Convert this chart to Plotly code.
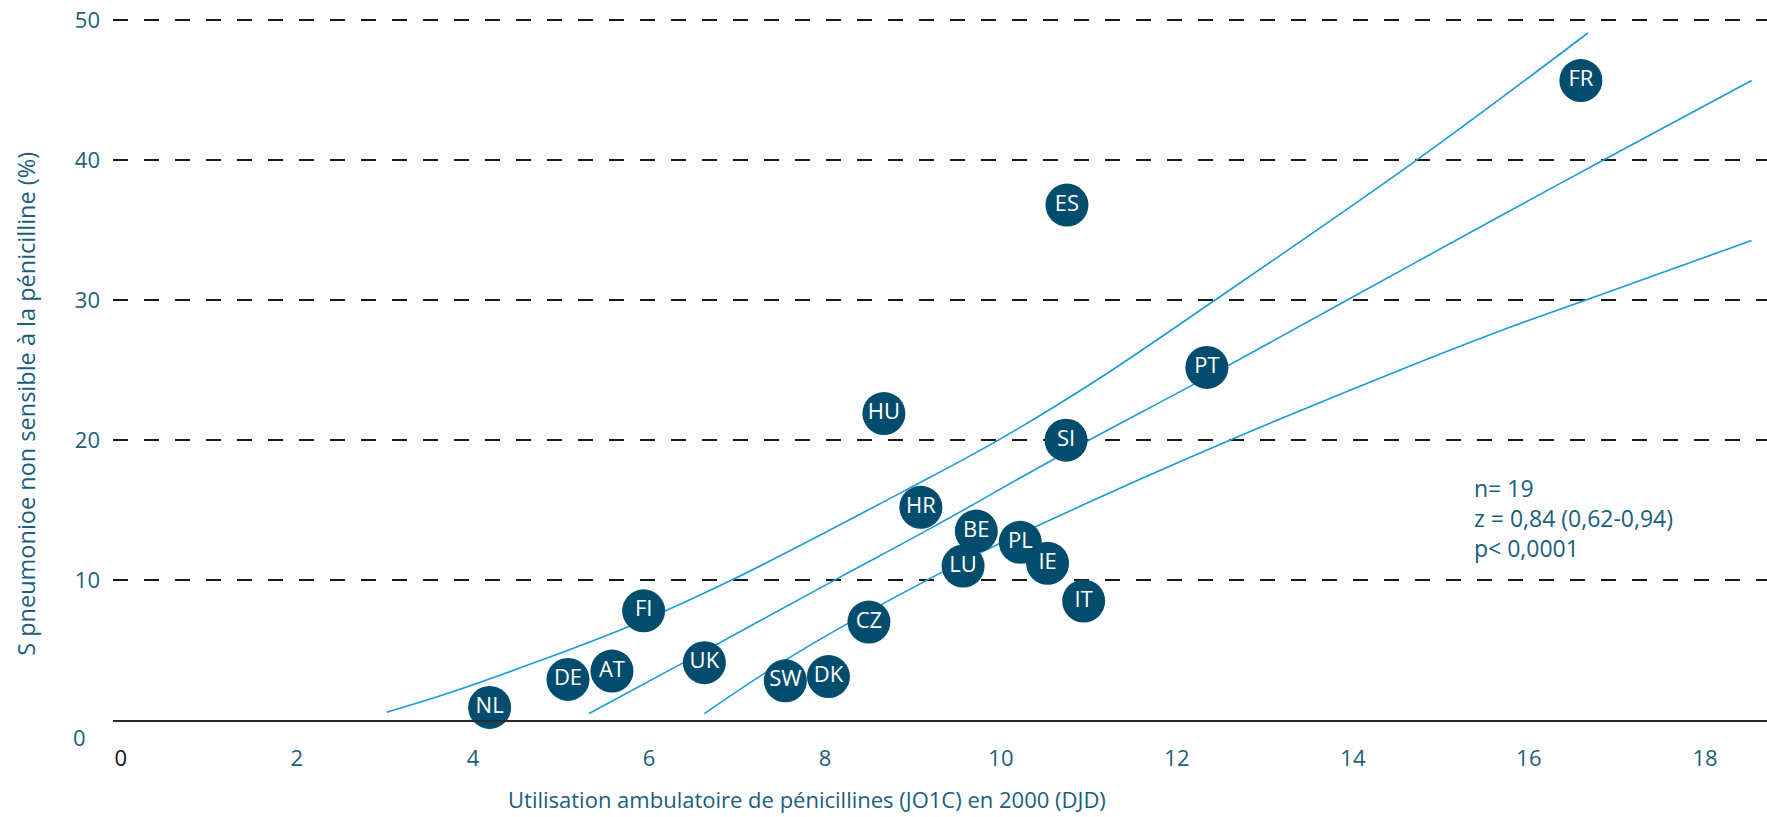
import plotly.graph_objects as go

# ---- data ----
countries = ["FR", "ES", "PT", "HU", "SI", "HR", "BE", "PL", "LU", "IE", "IT",
             "CZ", "FI", "UK", "DE", "AT", "SW", "DK", "NL"]
usage = [16.59, 10.75, 12.34, 8.67, 10.74, 9.09, 9.72, 10.22, 9.57, 10.53, 10.94,
         8.50, 5.94, 6.63, 5.08, 5.58, 7.55, 8.04, 4.19]
resistance = [45.7, 36.8, 25.2, 21.9, 20.0, 15.2, 13.5, 12.7, 11.0, 11.2, 8.5,
              7.0, 7.8, 4.1, 2.9, 3.5, 2.8, 3.1, 0.9]

upper_x = [3.02, 3.74, 5.78, 6.94, 9.00, 9.97, 11.09, 12.43, 14.72, 16.67]
upper_y = [0.56, 1.96, 6.7, 10.0, 16.7, 20.0, 24.3, 30.0, 40.0, 49.1]
mid_x = [5.32, 6.35, 8.11, 9.23, 10.59, 12.40, 13.93, 15.67, 16.90, 18.53]
mid_y = [0.46, 3.96, 10.0, 13.8, 18.6, 24.7, 30.0, 36.0, 40.2, 45.7]
low_x = [6.63, 7.53, 8.85, 9.80, 11.58, 12.60, 14.53, 15.67, 16.64, 18.53]
low_y = [0.46, 4.2, 8.96, 12.05, 17.2, 20.0, 25.0, 27.8, 30.0, 34.27]

x_ticks = [0, 2, 4, 6, 8, 10, 12, 14, 16, 18]
y_ticks = [10, 20, 30, 40, 50]

stats_text = "n= 19<br>z = 0,84 (0,62-0,94)<br>p< 0,0001"
x_title = "Utilisation ambulatoire de pénicillines (JO1C) en 2000 (DJD)"
y_title = "S pneumonioe non sensible à la pénicilline (%)"

# ---- styles ----
FONT = "'Open Sans', Lato, sans-serif"
TXT = "#1b5e7e"
MARK = "#024d6d"
LINE = "#1a9ad9"
Y_TOP = 50.1

fig = go.Figure()
for cx, cy in [(upper_x, upper_y), (mid_x, mid_y), (low_x, low_y)]:
    fig.add_trace(go.Scatter(x=cx, y=cy, mode="lines", line=dict(color=LINE, width=1.6, shape="spline"),
                             hoverinfo="skip", showlegend=False, cliponaxis=False))

fig.add_trace(go.Scatter(
    x=usage, y=resistance, mode="markers+text", text=countries,
    textposition="middle center",
    textfont=dict(family=FONT, size=22, color="white"),
    marker=dict(size=43, color=MARK, line=dict(width=0)),
    showlegend=False, cliponaxis=False))

x_ticktext = ['<span style="color:#111111">0</span>'] + [str(v) for v in x_ticks[1:]]

annotations = [
    dict(text=stats_text, x=15.35, y=14.45, xref="x", yref="y", xanchor="left",
         yanchor="middle", align="left", showarrow=False,
         font=dict(size=23, color=TXT, family=FONT)),
    dict(text=x_title, x=7.8, y=-5.67 / Y_TOP, xref="x", yref="paper", xanchor="center",
         yanchor="middle", showarrow=False, font=dict(size=22, color=TXT, family=FONT)),
    dict(text=y_title, x=0, xshift=-87, y=22.6, xref="paper", yref="y", textangle=-90,
         xanchor="center", yanchor="middle", showarrow=False,
         font=dict(size=23.5, color=TXT, family=FONT)),
    dict(text="0", x=0, xshift=-25, y=-1.18 / Y_TOP, xref="paper", yref="paper", xanchor="right",
         yanchor="middle", showarrow=False, font=dict(size=22, color=TXT, family=FONT)),
]

fig.update_layout(
    width=1767, height=817,
    margin=dict(l=113, r=0, t=18.6, b=96.5),
    paper_bgcolor="white", plot_bgcolor="white",
    font=dict(family=FONT, color=TXT, size=20),
    xaxis=dict(range=[-0.09, 18.705], tickvals=x_ticks, ticktext=x_ticktext,
               showgrid=False, zeroline=False, showline=True, linecolor="#2a2a2a", linewidth=2,
               ticks="", ticklabelstandoff=18, tickfont=dict(size=22, color=TXT, family=FONT)),
    yaxis=dict(range=[0, Y_TOP], tickvals=y_ticks, showgrid=True, gridcolor="#1a1a1a", gridwidth=1.6,
               griddash="15px,16px", zeroline=False, showline=False, ticks="",
               ticklabelstandoff=12, tickfont=dict(size=22, color=TXT, family=FONT)),
    annotations=annotations,
)

fig.write_html("out.html")
